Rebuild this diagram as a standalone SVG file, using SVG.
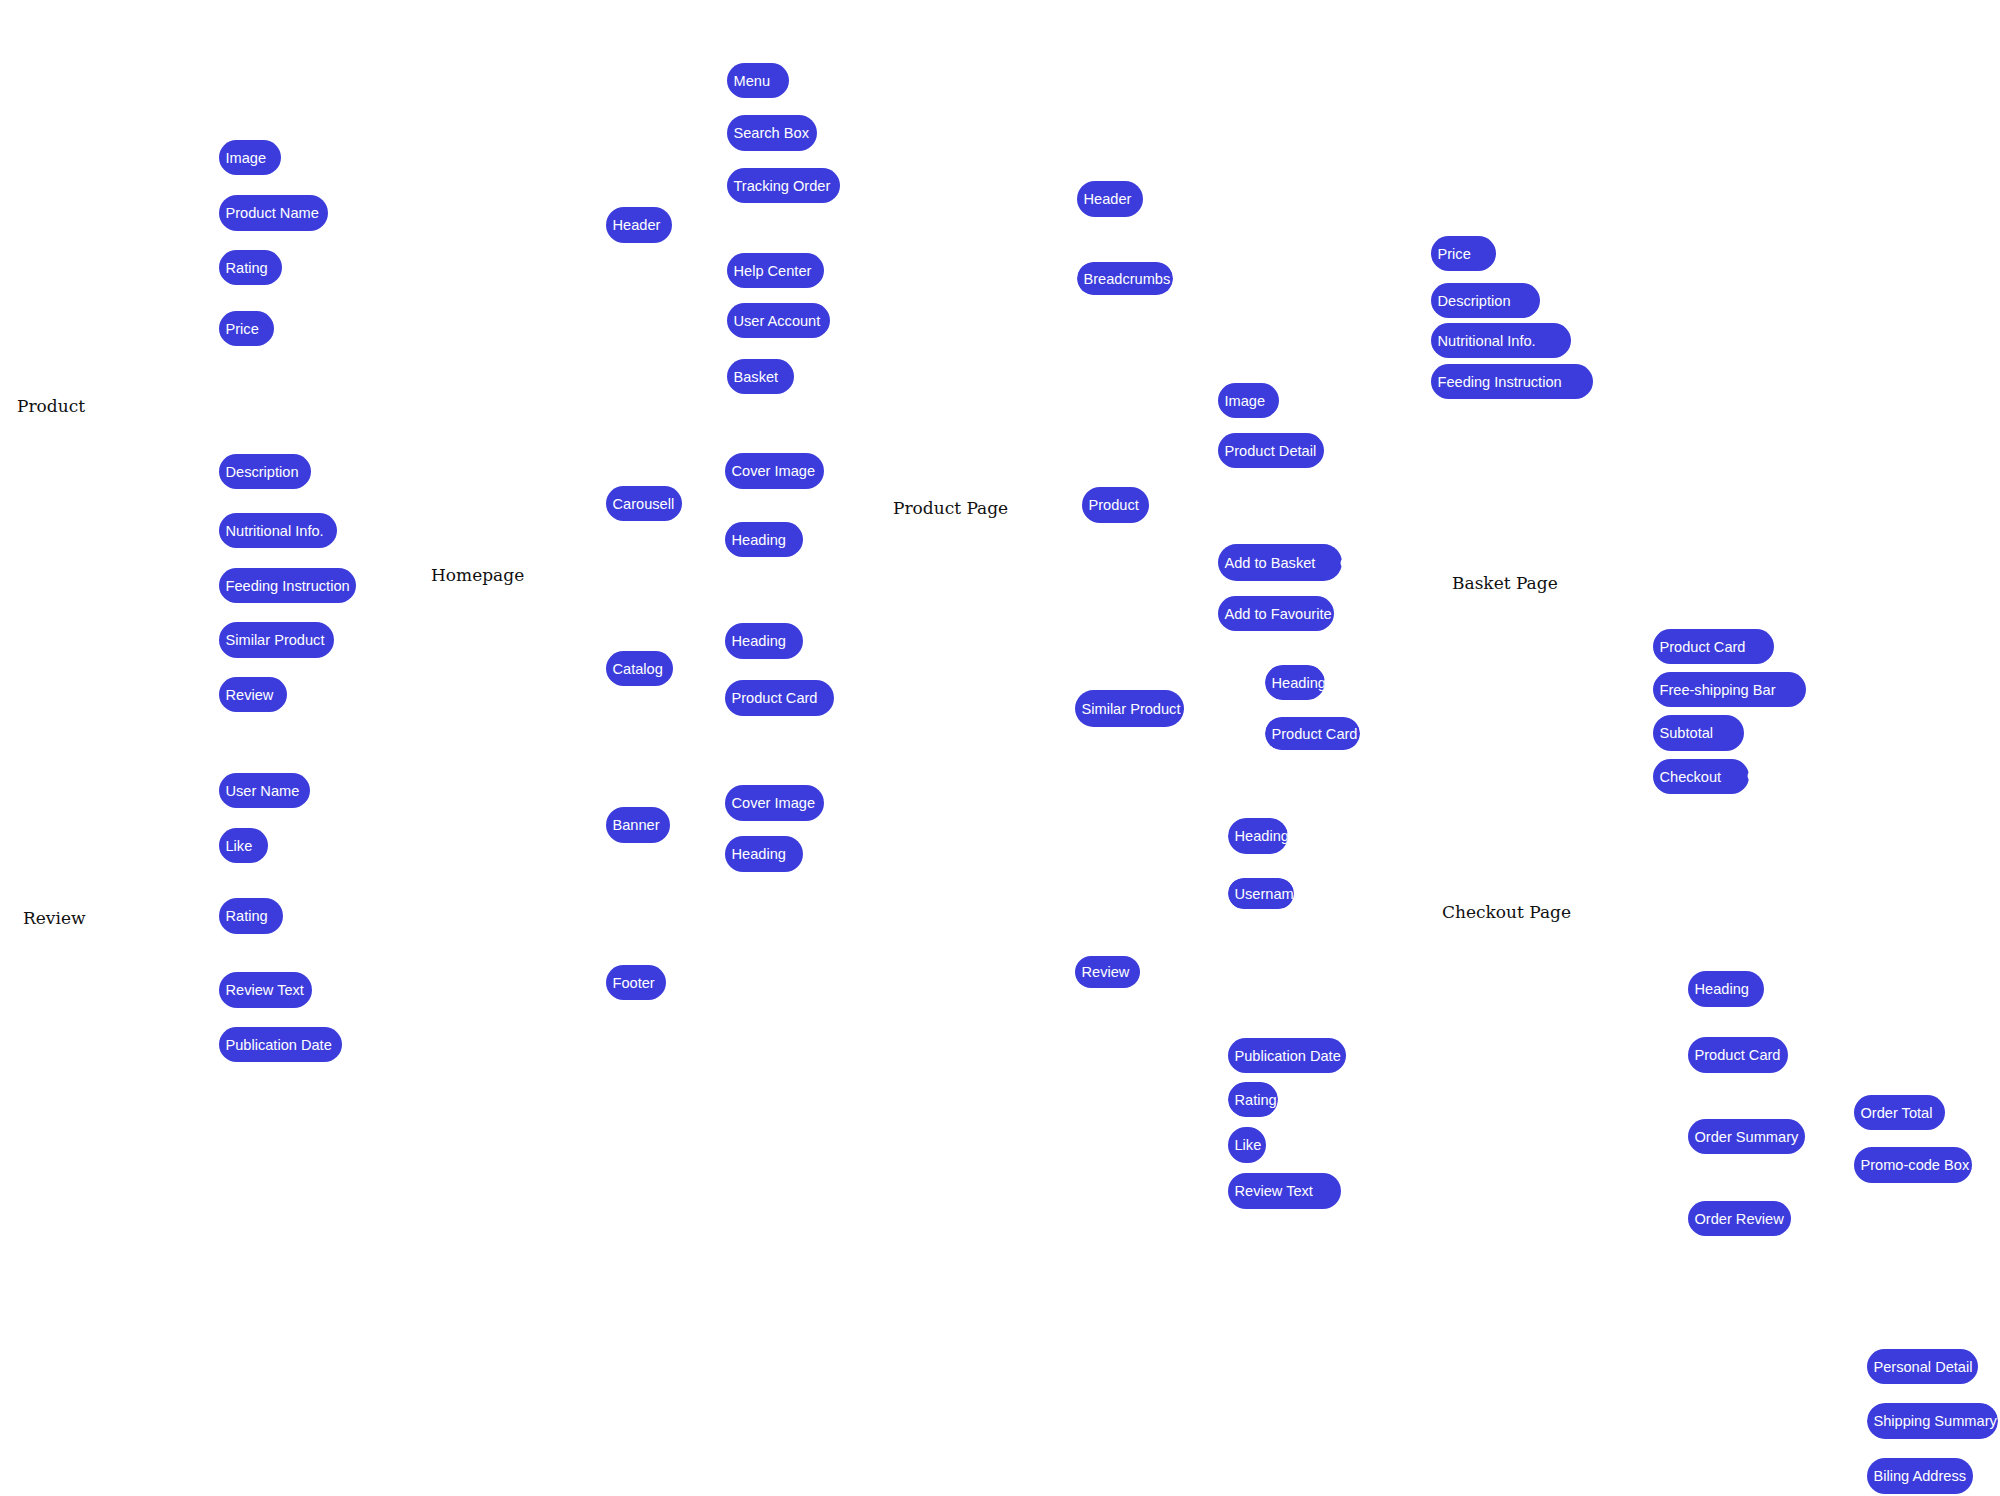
<svg xmlns="http://www.w3.org/2000/svg" width="2000" height="1496" viewBox="0 0 2000 1496">
<style>
.bg{fill:#ffffff}
.pill rect{fill:#3c3cdc}
.pill text{fill:#ffffff;font-family:"Liberation Sans",Arial,sans-serif;font-size:14.6px}
.title{fill:#111111;font-family:"DejaVu Serif","Liberation Serif",serif;font-size:17px}
.notch{fill:#ffffff}
</style>
<defs>
<clipPath id="c33"><rect x="1077" y="262" width="96" height="33" rx="16.5"/></clipPath>
<clipPath id="c40"><rect x="1265" y="665" width="60" height="35" rx="17.5"/></clipPath>
<clipPath id="c41"><rect x="1265" y="717" width="95" height="33" rx="16.5"/></clipPath>
<clipPath id="c43"><rect x="1228" y="818" width="60" height="36" rx="18"/></clipPath>
<clipPath id="c44"><rect x="1228" y="878" width="66" height="31" rx="15.5"/></clipPath>
<clipPath id="c46"><rect x="1228" y="1082" width="50" height="35" rx="17.5"/></clipPath>
<clipPath id="c64"><rect x="1867" y="1403" width="131" height="36" rx="18"/></clipPath>
</defs>
<rect class="bg" x="0" y="0" width="2000" height="1496"/>
<g id="connectors"></g>

<g id="titles">
<text id="t-product" class="title" x="17" y="411.5">Product</text>
<text id="t-review" class="title" x="23" y="924">Review</text>
<text id="t-homepage" class="title" x="431" y="581">Homepage</text>
<text id="t-productpage" class="title" x="893" y="514">Product Page</text>
<text id="t-basketpage" class="title" x="1452" y="589">Basket Page</text>
<text id="t-checkoutpage" class="title" x="1442" y="918">Checkout Page</text>
</g>

<g id="product-component">
<g id="n01" class="pill"><rect x="219" y="140" width="62" height="35" rx="17.5"/><text x="225.5" y="162.7">Image</text></g>
<g id="n02" class="pill"><rect x="219" y="195" width="109" height="36" rx="18"/><text x="225.5" y="218.2">Product Name</text></g>
<g id="n03" class="pill"><rect x="219" y="250" width="63" height="35" rx="17.5"/><text x="225.5" y="272.7">Rating</text></g>
<g id="n04" class="pill"><rect x="219" y="311" width="55" height="35" rx="17.5"/><text x="225.5" y="333.7">Price</text></g>
<g id="n05" class="pill"><rect x="219" y="454" width="92" height="35" rx="17.5"/><text x="225.5" y="476.7">Description</text></g>
<g id="n06" class="pill"><rect x="219" y="513" width="118" height="35" rx="17.5"/><text x="225.5" y="535.7">Nutritional Info.</text></g>
<g id="n07" class="pill"><rect x="219" y="568" width="137" height="35" rx="17.5"/><text x="225.5" y="590.7">Feeding Instruction</text></g>
<g id="n08" class="pill"><rect x="219" y="622" width="115" height="36" rx="18"/><text x="225.5" y="645.2">Similar Product</text></g>
<g id="n09" class="pill"><rect x="219" y="677" width="68" height="35" rx="17.5"/><text x="225.5" y="699.7">Review</text></g>
</g>

<g id="review-component">
<g id="n10" class="pill"><rect x="219" y="773" width="91" height="35" rx="17.5"/><text x="225.5" y="795.7">User Name</text></g>
<g id="n11" class="pill"><rect x="219" y="828" width="49" height="35" rx="17.5"/><text x="225.5" y="850.7">Like</text></g>
<g id="n12" class="pill"><rect x="219" y="898" width="64" height="36" rx="18"/><text x="225.5" y="921.2">Rating</text></g>
<g id="n13" class="pill"><rect x="219" y="972" width="93" height="36" rx="18"/><text x="225.5" y="995.2">Review Text</text></g>
<g id="n14" class="pill"><rect x="219" y="1027" width="123" height="35" rx="17.5"/><text x="225.5" y="1049.7">Publication Date</text></g>
</g>

<g id="homepage">
<g id="n15" class="pill"><rect x="606" y="207" width="66" height="36" rx="18"/><text x="612.5" y="230.2">Header</text></g>
<g id="n16" class="pill"><rect x="727" y="63" width="62" height="35" rx="17.5"/><text x="733.5" y="85.7">Menu</text></g>
<g id="n17" class="pill"><rect x="727" y="115" width="90" height="36" rx="18"/><text x="733.5" y="138.2">Search Box</text></g>
<g id="n18" class="pill"><rect x="727" y="168" width="113" height="35" rx="17.5"/><text x="733.5" y="190.7">Tracking Order</text></g>
<g id="n19" class="pill"><rect x="727" y="253" width="97" height="35" rx="17.5"/><text x="733.5" y="275.7">Help Center</text></g>
<g id="n20" class="pill"><rect x="727" y="303" width="103" height="35" rx="17.5"/><text x="733.5" y="325.7">User Account</text></g>
<g id="n21" class="pill"><rect x="727" y="359" width="67" height="35" rx="17.5"/><text x="733.5" y="381.7">Basket</text></g>
<g id="n22" class="pill"><rect x="606" y="486" width="76" height="35" rx="17.5"/><text x="612.5" y="508.7">Carousell</text></g>
<g id="n23" class="pill"><rect x="725" y="453" width="99" height="36" rx="18"/><text x="731.5" y="476.2">Cover Image</text></g>
<g id="n24" class="pill"><rect x="725" y="522" width="78" height="35" rx="17.5"/><text x="731.5" y="544.7">Heading</text></g>
<g id="n25" class="pill"><rect x="606" y="651" width="67" height="35" rx="17.5"/><text x="612.5" y="673.7">Catalog</text></g>
<g id="n26" class="pill"><rect x="725" y="623" width="78" height="36" rx="18"/><text x="731.5" y="646.2">Heading</text></g>
<g id="n27" class="pill"><rect x="725" y="680" width="109" height="36" rx="18"/><text x="731.5" y="703.2">Product Card</text></g>
<g id="n28" class="pill"><rect x="606" y="807" width="64" height="36" rx="18"/><text x="612.5" y="830.2">Banner</text></g>
<g id="n29" class="pill"><rect x="725" y="785" width="99" height="36" rx="18"/><text x="731.5" y="808.2">Cover Image</text></g>
<g id="n30" class="pill"><rect x="725" y="836" width="78" height="36" rx="18"/><text x="731.5" y="859.2">Heading</text></g>
<g id="n31" class="pill"><rect x="606" y="965" width="60" height="35" rx="17.5"/><text x="612.5" y="987.7">Footer</text></g>
</g>

<g id="product-page">
<g id="n32" class="pill"><rect x="1077" y="181" width="66" height="36" rx="18"/><text x="1083.5" y="204.2">Header</text></g>
<g id="n33" class="pill" clip-path="url(#c33)"><rect x="1077" y="262" width="96" height="33" rx="16.5"/><text x="1083.5" y="283.7">Breadcrumbs</text></g>
<g id="n34" class="pill"><rect x="1082" y="487" width="67" height="36" rx="18"/><text x="1088.5" y="510.2">Product</text></g>
<g id="n35" class="pill"><rect x="1218" y="383" width="61" height="35" rx="17.5"/><text x="1224.5" y="405.7">Image</text></g>
<g id="n36" class="pill"><rect x="1218" y="433" width="106" height="35" rx="17.5"/><text x="1224.5" y="455.7">Product Detail</text></g>
<g id="n37" class="pill"><rect x="1218" y="544" width="124" height="37" rx="18.5"/><text x="1224.5" y="567.7">Add to Basket</text><circle class="notch" cx="1346" cy="563" r="5.5"/></g>
<g id="n38" class="pill"><rect x="1218" y="596" width="116" height="35" rx="17.5"/><text x="1224.5" y="618.7">Add to Favourite</text></g>
<g id="n39" class="pill"><rect x="1075" y="690" width="109" height="37" rx="18.5"/><text x="1081.5" y="713.7">Similar Product</text></g>
<g id="n40" class="pill" clip-path="url(#c40)"><rect x="1265" y="665" width="60" height="35" rx="17.5"/><text x="1271.5" y="687.7">Heading</text></g>
<g id="n41" class="pill" clip-path="url(#c41)"><rect x="1265" y="717" width="95" height="33" rx="16.5"/><text x="1271.5" y="738.7">Product Card</text></g>
<g id="n42" class="pill"><rect x="1075" y="956" width="65" height="32" rx="16"/><text x="1081.5" y="977.2">Review</text></g>
<g id="n43" class="pill" clip-path="url(#c43)"><rect x="1228" y="818" width="60" height="36" rx="18"/><text x="1234.5" y="841.2">Heading</text></g>
<g id="n44" class="pill" clip-path="url(#c44)"><rect x="1228" y="878" width="66" height="31" rx="15.5"/><text x="1234.5" y="898.7">Usernam</text></g>
<g id="n45" class="pill"><rect x="1228" y="1038" width="118" height="35" rx="17.5"/><text x="1234.5" y="1060.7">Publication Date</text></g>
<g id="n46" class="pill" clip-path="url(#c46)"><rect x="1228" y="1082" width="50" height="35" rx="17.5"/><text x="1234.5" y="1104.7">Rating</text></g>
<g id="n47" class="pill"><rect x="1228" y="1127" width="38" height="36" rx="18"/><text x="1234.5" y="1150.2">Like</text></g>
<g id="n48" class="pill"><rect x="1228" y="1173" width="113" height="36" rx="18"/><text x="1234.5" y="1196.2">Review Text</text></g>
</g>

<g id="basket-page">
<g id="n49" class="pill"><rect x="1431" y="236" width="65" height="35" rx="17.5"/><text x="1437.5" y="258.7">Price</text></g>
<g id="n50" class="pill"><rect x="1431" y="283" width="109" height="35" rx="17.5"/><text x="1437.5" y="305.7">Description</text></g>
<g id="n51" class="pill"><rect x="1431" y="323" width="140" height="35" rx="17.5"/><text x="1437.5" y="345.7">Nutritional Info.</text></g>
<g id="n52" class="pill"><rect x="1431" y="364" width="162" height="35" rx="17.5"/><text x="1437.5" y="386.7">Feeding Instruction</text></g>
<g id="n53" class="pill"><rect x="1653" y="629" width="121" height="35" rx="17.5"/><text x="1659.5" y="651.7">Product Card</text></g>
<g id="n54" class="pill"><rect x="1653" y="672" width="153" height="35" rx="17.5"/><text x="1659.5" y="694.7">Free-shipping Bar</text></g>
<g id="n55" class="pill"><rect x="1653" y="715" width="91" height="36" rx="18"/><text x="1659.5" y="738.2">Subtotal</text></g>
<g id="n56" class="pill"><rect x="1653" y="759" width="96" height="35" rx="17.5"/><text x="1659.5" y="781.7">Checkout</text><circle class="notch" cx="1753" cy="776" r="5.5"/></g>
</g>

<g id="checkout-page">
<g id="n57" class="pill"><rect x="1688" y="971" width="76" height="36" rx="18"/><text x="1694.5" y="994.2">Heading</text></g>
<g id="n58" class="pill"><rect x="1688" y="1037" width="100" height="36" rx="18"/><text x="1694.5" y="1060.2">Product Card</text></g>
<g id="n59" class="pill"><rect x="1688" y="1119" width="117" height="35" rx="17.5"/><text x="1694.5" y="1141.7">Order Summary</text></g>
<g id="n60" class="pill"><rect x="1688" y="1201" width="103" height="35" rx="17.5"/><text x="1694.5" y="1223.7">Order Review</text></g>
<g id="n61" class="pill"><rect x="1854" y="1095" width="91" height="35" rx="17.5"/><text x="1860.5" y="1117.7">Order Total</text></g>
<g id="n62" class="pill"><rect x="1854" y="1147" width="118" height="36" rx="18"/><text x="1860.5" y="1170.2">Promo-code Box</text></g>
<g id="n63" class="pill"><rect x="1867" y="1349" width="111" height="35" rx="17.5"/><text x="1873.5" y="1371.7">Personal Detail</text></g>
<g id="n64" class="pill" clip-path="url(#c64)"><rect x="1867" y="1403" width="131" height="36" rx="18"/><text x="1873.5" y="1426.2">Shipping Summary</text></g>
<g id="n65" class="pill"><rect x="1867" y="1458" width="106" height="36" rx="18"/><text x="1873.5" y="1481.2">Biling Address</text></g>
</g>
</svg>
